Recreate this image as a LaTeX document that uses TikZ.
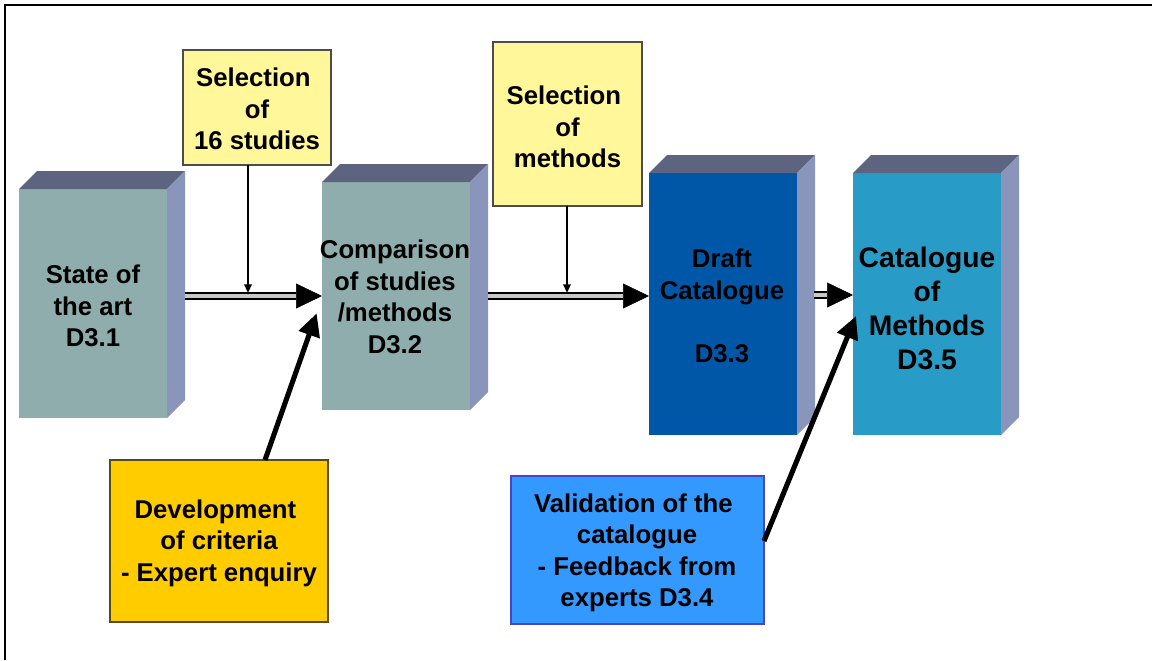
\documentclass[tikz,border=0pt]{standalone}
\usepackage{fontspec}
\setmainfont{Liberation Sans}
\usetikzlibrary{arrows.meta,calc,fit}
\definecolor{frontgray}{HTML}{8FADAD}
\definecolor{topslate}{HTML}{5D6480}
\definecolor{sidelav}{HTML}{8A95BB}
\definecolor{draftblue}{HTML}{0057A8}
\definecolor{catblue}{HTML}{289CC6}
\definecolor{selyellow}{HTML}{FFF799}
\definecolor{devorange}{HTML}{FFCC00}
\definecolor{valblue}{HTML}{3399FF}
\definecolor{devedge}{HTML}{5A4B14}
\definecolor{valedge}{HTML}{4646C8}
\definecolor{dblgray}{HTML}{C8C8C8}
\newcommand{\drawprism}[1]{%
  \fill[topslate] (#1.north west) -- ++(18,-18) -- ($(#1.north east)+(18,-18)$) -- (#1.north east) -- cycle;
  \fill[sidelav] (#1.north east) -- ++(18,-18) -- ($(#1.south east)+(18,-18)$) -- (#1.south east) -- cycle;}
\tikzset{
  frontface/.style={inner sep=0pt, outer sep=0pt, draw=none},
  notebox/.style={inner sep=0pt, outer sep=0pt, line width=0.8pt},
  lbl/.style={font=\bfseries\fontsize{19.3}{23.6}\selectfont, align=center, inner sep=0pt},
  lblbig/.style={font=\bfseries\fontsize{21.2}{25.5}\selectfont, align=center, inner sep=0pt},
  dblline/.style={line width=1.2pt, double=dblgray, double distance=3pt, shorten >=19.5pt},
  bigtip/.style={line width=0.4pt, -{Triangle[length=19.5pt,width=18.75pt]}},
  thinarrow/.style={line width=1.5pt, -{Triangle[length=6.5pt,width=5.5pt]}},
  thickarrow/.style={line width=3.8pt, -{Triangle[length=17pt,width=16pt]}}
}
\begin{document}
\begin{tikzpicture}[x=0.75pt, y=-0.75pt]
\useasboundingbox (0,0) rectangle (1152,660);
% frame (top and left edges visible)
\draw[line width=1.5pt] (5,660) -- (5,5) -- (1152,5);

% 3D boxes
\node[frontface, fill=frontgray, fit={(19,189)(167,418)}] (b1) {};
\drawprism{b1}
\node[frontface, fill=frontgray, fit={(322,182)(470,410)}] (b2) {};
\drawprism{b2}
\node[frontface, fill=draftblue, fit={(649,173)(797,435)}] (b3) {};
\drawprism{b3}
\node[frontface, fill=catblue, fit={(853,173)(1001,435)}] (b4) {};
\drawprism{b4}

\node[lbl] (b1t) at (93,306) {State of\\the art\\D3.1};
\node[lbl] (b2t) at (395,297) {Comparison\\of studies\\/methods\\D3.2};
\node[lbl] (b3t) at (722,306) {Draft\\Catalogue\\\mbox{}\\D3.3};
\node[lblbig] (b4t) at (927,308) {Catalogue\\of\\Methods\\D3.5};

% note boxes
\node[notebox, draw=black!70, fill=selyellow, fit={(183,50)(331,165)}] (y1) {};
\node[lbl] (y1t) at (257,109) {Selection\hspace*{0.28em}\\of\\16 studies};
\node[notebox, draw=black!70, fill=selyellow, fit={(493,42)(642,206)}] (y2) {};
\node[lbl] (y2t) at (567.5,127) {Selection\hspace*{0.28em}\\of\\methods};
\node[notebox, draw=devedge, fill=devorange, fit={(110,460)(328,622)}] (d) {};
\node[lbl] (dt) at (219,543) {Development\hspace*{0.28em}\\of criteria\\- Expert enquiry};
\node[notebox, draw=valedge, fill=valblue, fit={(511,476)(764,624)}] (v) {};
\node[lbl] (vt) at (637,553) {Validation of the\hspace*{0.28em}\\catalogue\\- Feedback from\hspace*{0.28em}\\experts D3.4};

% connector anchors
\coordinate (a1s) at (185,296);
\coordinate (a2s) at (488,296);
\coordinate (a3s) at (814,295);
\coordinate (t1) at (248,293);
\coordinate (t2) at (567,293);

% double arrows between boxes
\draw[bigtip] (a1s) -- (a1s -| b2.west);
\draw[dblline] (a1s) -- (a1s -| b2.west);
\draw[bigtip] (a2s) -- (a2s -| b3.west);
\draw[dblline] (a2s) -- (a2s -| b3.west);
\draw[bigtip] (a3s) -- (a3s -| b4.west);
\draw[dblline] (a3s) -- (a3s -| b4.west);

% thin arrows from selection boxes
\draw[thinarrow] (t1 |- y1.south) -- (t1);
\draw[thinarrow] (t2 |- y2.south) -- (t2);

% thick arrows from the lower boxes
\draw[thickarrow] ([xshift=34.5pt]d.north) -- ([xshift=-4pt,yshift=-13pt]b2.west);
\draw[thickarrow] ([yshift=6.75pt]v.east) -- ([xshift=2.25pt,yshift=-9pt]b4.west);
\end{tikzpicture}
\end{document}
